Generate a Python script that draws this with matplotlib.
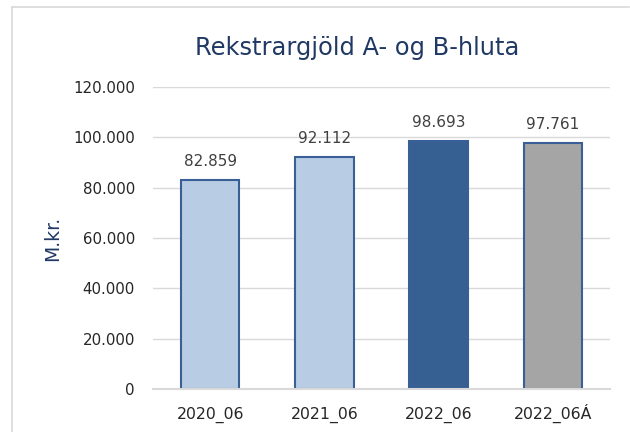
import matplotlib.pyplot as plt
from matplotlib.lines import Line2D

# data
categories = ["2020_06", "2021_06", "2022_06", "2022_06Á"]
values = [82.859, 92.112, 98.693, 97.761]
labels = ["82.859", "92.112", "98.693", "97.761"]
yticks = [0, 20, 40, 60, 80, 100, 120]
yticklabels = ["0", "20.000", "40.000", "60.000", "80.000", "100.000", "120.000"]

fills = ["#B8CCE4", "#B8CCE4", "#376092", "#A5A5A5"]
edge = "#3A5E96"
navy = "#1F3864"
txt = "#262626"

fig = plt.figure(figsize=(6.3, 4.32), dpi=100)
ax = fig.add_axes([153/630, 1-389/432, 457/630, 302/432])

x = range(len(categories))
ax.bar(x, values, width=0.51, color=fills, edgecolor=edge, linewidth=1.5, zorder=3)

for i, v in enumerate(values):
    ax.annotate(labels[i], (i, v), xytext=(0, 8), textcoords="offset points",
                ha="center", va="bottom", fontsize=11, color="#404040")

ax.set_xlim(-0.5, 3.5)
ax.set_ylim(0, 120)
ax.set_yticks(yticks)
ax.set_yticklabels(yticklabels, fontsize=10.8, color=txt)
ax.set_xticks(list(x))
ax.set_xticklabels(categories, fontsize=11.3, color=txt, va="baseline")
ax.tick_params(length=0)
ax.tick_params(axis="y", pad=13)
ax.tick_params(axis="x", pad=21.5)
ax.grid(axis="y", color="#D9D9D9", linewidth=1.0, zorder=0)
ax.axhline(0, color="#D9D9D9", linewidth=1.5, zorder=4, clip_on=False)
for s in ax.spines.values():
    s.set_visible(False)

ax.set_ylabel("M.kr.", fontsize=13.5, color=navy, labelpad=8)

fig.text(357/630, 1-48/432, "Rekstrargjöld A- og B-hluta", fontsize=17.4,
         color=navy, ha="center", va="center")

# chart border
fig.add_artist(Line2D([11.5/630, 11.5/630], [0, 1-7/432], transform=fig.transFigure,
                      color="#D9D9D9", linewidth=1.2))
fig.add_artist(Line2D([11.5/630, 0.998], [1-7/432, 1-7/432], transform=fig.transFigure,
                      color="#D9D9D9", linewidth=1.2))

fig.savefig("out.png", dpi=100)
